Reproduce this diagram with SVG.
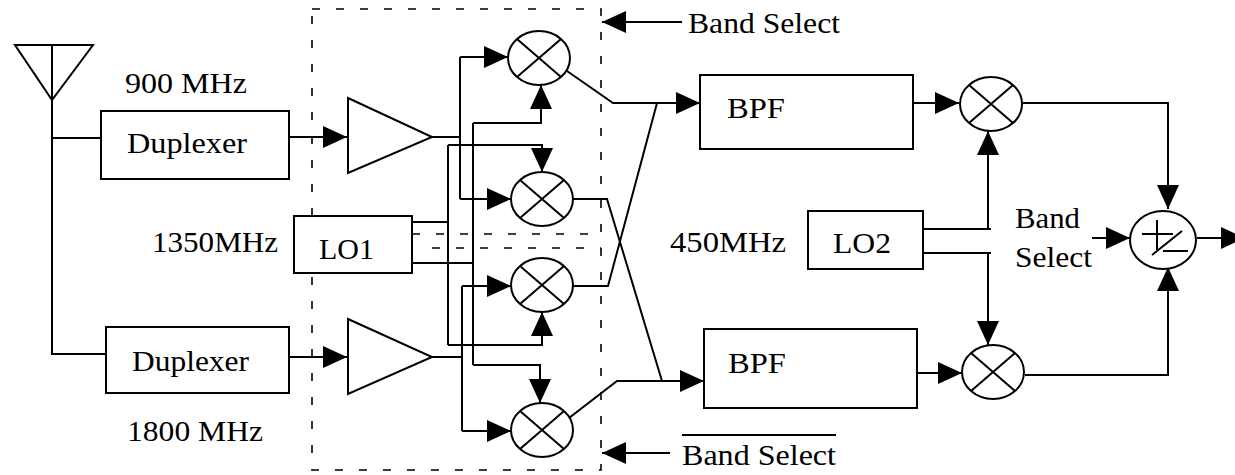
<svg xmlns="http://www.w3.org/2000/svg" width="1235" height="475" viewBox="0 0 1235 475">
<style>
.ln{fill:none;stroke:#000;stroke-width:2}
.bx{fill:#fff;stroke:#000;stroke-width:2}
.dash{fill:none;stroke:#000;stroke-width:1.6;stroke-dasharray:8 16}
.t{font-family:"Liberation Serif","Times New Roman",serif;font-size:30px;fill:#000}
.arr{marker-end:url(#ah)}
</style>
<defs>
<marker id="ah" viewBox="0 0 24 22" refX="24" refY="11" markerWidth="24" markerHeight="22" markerUnits="userSpaceOnUse" orient="auto">
<path d="M0,0 L24,11 L0,22 Z" fill="#000"/>
</marker>
<g id="mix">
<ellipse cx="0" cy="0" rx="31" ry="27" class="bx"/>
<path d="M-22,-19 L22,19 M22,-19 L-22,19" class="ln"/>
</g>
</defs>
<rect width="1235" height="475" fill="#fff"/>

<g id="frame">
<path class="dash" d="M312,9 H601 V470 H312 V273 M312,216 V9"/>
<path class="dash" d="M412,234 H601 M432,248 H601"/>
</g>

<g id="connectors">
<path class="ln" d="M52,100 V354 H106 M52,138 H101"/>
<path class="ln arr" d="M289,137 H347"/>
<path class="ln arr" d="M289,357 H347"/>
<path class="ln" d="M432,137 H460 M460,57 V199"/>
<path class="ln arr" d="M460,57 H508"/>
<path class="ln arr" d="M460,199 H511"/>
<path class="ln" d="M432,357 H462 M462,286 V431"/>
<path class="ln arr" d="M462,286 H511"/>
<path class="ln arr" d="M462,431 H511"/>
<path class="ln" d="M412,222 H448 M448,145 V345"/>
<path class="ln arr" d="M448,145 H542 V172"/>
<path class="ln arr" d="M448,345 H542 V312"/>
<path class="ln" d="M412,263 H473 M473,123 V365"/>
<path class="ln arr" d="M473,123 H541 V85"/>
<path class="ln arr" d="M473,365 H540 V403"/>
<path class="ln arr" d="M567,71 L613,103 H700"/>
<path class="ln" d="M573,199 H607 L662,381"/>
<path class="ln" d="M573,286 H608 L657,103"/>
<path class="ln arr" d="M569,418 L617,381 H704"/>
<path class="ln arr" d="M913,103 H959"/>
<path class="ln arr" d="M917,373 H962"/>
<path class="ln" d="M923,229 H991 M923,253 H991"/>
<path class="ln arr" d="M988,229 V131"/>
<path class="ln arr" d="M988,253 V345"/>
<path class="ln arr" d="M1092,238 H1130"/>
<path class="ln arr" d="M1023,103 H1168 V209"/>
<path class="ln arr" d="M1025,375 H1168 V267"/>
<path class="ln arr" d="M1197,238 H1245"/>
<path class="ln arr" d="M682,22 H602"/>
<path class="ln arr" d="M670,453 H602"/>
</g>

<g id="antenna">
<path class="ln" d="M15,45 H93 L52,100 Z M52,45 V100"/>
</g>

<g id="duplexer1">
<rect class="bx" x="101" y="111" width="188" height="68"/>
<text class="t" x="127" y="153" textLength="120" lengthAdjust="spacingAndGlyphs">Duplexer</text>
</g>
<g id="duplexer2">
<rect class="bx" x="106" y="327" width="183" height="66"/>
<text class="t" x="132" y="371" textLength="117" lengthAdjust="spacingAndGlyphs">Duplexer</text>
</g>

<g id="amp1"><path class="ln" d="M348,98 L432,137 L348,173 Z"/></g>
<g id="amp2"><path class="ln" d="M348,319 L432,357 L348,394 Z"/></g>

<g id="lo1">
<rect class="bx" x="294" y="216" width="118" height="57"/>
<text class="t" x="319" y="259" textLength="55" lengthAdjust="spacingAndGlyphs">LO1</text>
</g>

<g id="mixer1"><use href="#mix" x="539" y="58"/></g>
<g id="mixer2"><use href="#mix" x="542" y="199"/></g>
<g id="mixer3"><use href="#mix" x="542" y="285"/></g>
<g id="mixer4"><use href="#mix" x="542" y="430"/></g>

<g id="bpf1">
<rect class="bx" x="700" y="75" width="213" height="74"/>
<text class="t" x="727" y="118" textLength="58" lengthAdjust="spacingAndGlyphs">BPF</text>
</g>
<g id="bpf2">
<rect class="bx" x="704" y="329" width="213" height="79"/>
<text class="t" x="728" y="373" textLength="58" lengthAdjust="spacingAndGlyphs">BPF</text>
</g>

<g id="mixer5"><use href="#mix" x="991" y="104"/></g>
<g id="mixer6"><use href="#mix" x="993" y="372"/></g>

<g id="lo2">
<rect class="bx" x="808" y="211" width="115" height="58"/>
<text class="t" x="833" y="253" textLength="58" lengthAdjust="spacingAndGlyphs">LO2</text>
</g>

<g id="summer">
<ellipse class="bx" cx="1163" cy="240" rx="33" ry="29"/>
<path class="ln" d="M1142,234 H1173 M1157,220 V250 M1152,255 L1182,231 M1163,251 H1188"/>
</g>

<g id="labels">
<text class="t" x="125" y="93" textLength="122" lengthAdjust="spacingAndGlyphs">900 MHz</text>
<text class="t" x="127" y="441" textLength="136" lengthAdjust="spacingAndGlyphs">1800 MHz</text>
<text class="t" x="152" y="252" textLength="126" lengthAdjust="spacingAndGlyphs">1350MHz</text>
<text class="t" x="670" y="252" textLength="116" lengthAdjust="spacingAndGlyphs">450MHz</text>
<text class="t" x="1015" y="228" textLength="65" lengthAdjust="spacingAndGlyphs">Band</text>
<text class="t" x="1015" y="267" textLength="77" lengthAdjust="spacingAndGlyphs">Select</text>
<text class="t" x="688" y="33" textLength="152" lengthAdjust="spacingAndGlyphs">Band Select</text>
<text class="t" x="682" y="465" textLength="154" lengthAdjust="spacingAndGlyphs">Band Select</text>
<path class="ln" d="M682,435 H836"/>
</g>
</svg>
